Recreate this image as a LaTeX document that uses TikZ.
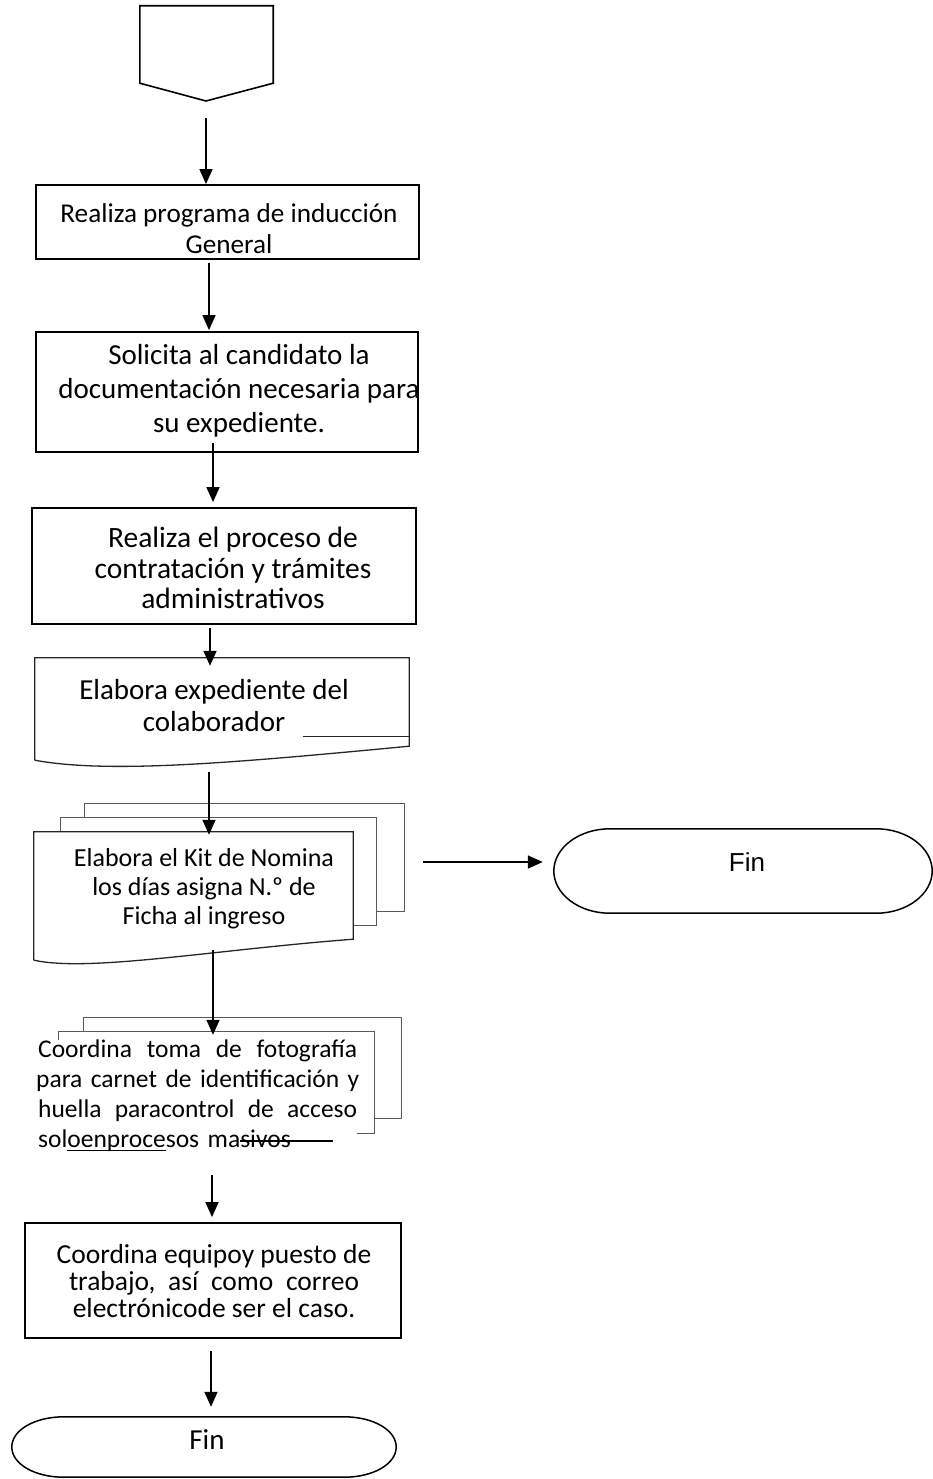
\documentclass[tikz,border=0pt]{standalone}
\usepackage{fontspec}
\setmainfont{Carlito}
\newfontfamily\arialfam{Liberation Sans}
\usetikzlibrary{arrows.meta}

\newlength\anchosub
\newcommand\subrayado[1]{\settowidth{\anchosub}{#1}\rlap{\rule[-3.5pt]{\anchosub}{1.5pt}}#1}
\newcommand\tam[2]{\fontsize{#1}{#2}\selectfont}

\tikzset{
  caja/.style={draw, line width=1.8pt, inner sep=0pt},
  hoja/.style={inner sep=0pt},
  borde/.style={line width=1.3pt, draw=black!85},
  capa/.style={line width=1.2pt, draw=black!65},
  flecha/.style={-{Triangle[length=15pt,width=13pt]}, line width=1.6pt},
  texto/.style={align=center, inner sep=0pt},
}

\begin{document}
\begin{tikzpicture}[x=1pt,y=-1pt]
    \useasboundingbox (0,0) rectangle (932,1479);

    % conector de inicio
    \node[hoja, minimum width=133pt, minimum height=77pt] (inicio) at (206.5,44.5) {};
    \coordinate (punta) at (206,101);
    \draw[line width=1.6pt] (inicio.south west) -- (inicio.north west) -- (inicio.north east)
        -- (inicio.south east) -- (punta) -- cycle;

    % procesos
    \node[caja, minimum width=383pt, minimum height=74pt]  (induccion) at (227.5,222) {};
    \node[caja, minimum width=382pt, minimum height=120pt] (solicita)  at (227,392) {};
    \node[caja, minimum width=384pt, minimum height=116pt] (contrata)  at (224,566) {};
    \node[caja, minimum width=376pt, minimum height=115pt] (equipo)    at (213,1280.5) {};

    \node[texto, font=\tam{27.2}{31}] (t1) at (229,229) {Realiza programa de inducción\\General};
    \node[texto, font=\tam{29}{34}]   (t2) at (239,391) {Solicita al candidato la\\documentación necesaria para\\su expediente.};
    \node[texto, font=\tam{29.5}{30.5}] (t3) at (233,568) {Realiza el proceso de\\contratación y trámites\\administrativos};
    \node[texto, font=\tam{27.5}{27}] (t7) at (214,1281)
        {Coordina equipoy puesto de\\\makebox[290pt]{trabajo,\hfill así\hfill como\hfill correo}\\electrónicode ser el caso.};

    % documento
    \node[hoja, minimum width=374pt, minimum height=88pt] (expediente) at (222,702) {};
    \draw[borde] ([yshift=-14pt]expediente.south west) -- (expediente.north west)
        -- (expediente.north east) -- (expediente.south east)
        .. controls +(-169,16) and +(75,14) .. ([yshift=-14pt]expediente.south west);
    \draw[borde] ([yshift=10pt]expediente.south east) -- ++(-106,0);
    \node[texto, font=\tam{29}{32}] (t4) at (214,706) {Elabora expediente del\\colaborador};

    % multidocumento 1
    \node[hoja, minimum width=319pt, minimum height=107pt] (nomina) at (193.5,885.5) {};
    \draw[capa] ([xshift=51pt,yshift=14pt]nomina.north west) -- ++(0,-14) -- ++(320,0) -- ++(0,108) -- ++(-28,0);
    \draw[capa] ([xshift=27pt]nomina.north west) -- ++(0,-14) -- ++(316,0) -- ++(0,108) -- ++(-24,0);
    \draw[borde, fill=white] ([yshift=-21pt]nomina.south west) -- (nomina.north west)
        -- (nomina.north east) -- (nomina.south east)
        .. controls +(-143,11) and +(56,12) .. ([yshift=-21pt]nomina.south west);
    \node[texto, font=\tam{26}{29}] (t5) at (204,889) {Elabora el Kit de Nomina\\los días asigna N.º de\\Ficha al ingreso};

    % multidocumento 2
    \node[hoja, minimum width=315pt, minimum height=101pt] (foto) at (216.5,1082.5) {};
    \draw[capa] ([xshift=25pt]foto.north west) -- ++(0,-14) -- ++(318,0) -- ++(0,101) -- ++(-28,0);
    \draw[capa, fill=white] (foto.south west) rectangle (foto.north east);
    \node[anchor=north west, fill=white, inner sep=0pt, text width=319pt, align=left,
          font=\tam{25.5}{30}] (t6) at (38,1040)
        {\makebox[319pt]{Coordina\hfill toma\hfill de\hfill fotografía}\\
         \makebox[319pt]{para carnet de identificación y}\\
         \makebox[319pt]{huella\hfill paracontrol\hfill de\hfill acceso}\\
         sol\subrayado{oenproce}sos ma\rlap{\rule[6pt]{93pt}{1.5pt}}sivos};

    % terminadores
    \node[hoja, minimum width=378pt, minimum height=84pt] (fin1) at (743,871) {};
    \draw[line width=1.5pt] ([xshift=56pt]fin1.north west) -- ([xshift=-56pt]fin1.north east)
        .. controls +(31,0) and +(0,-23) .. (fin1.east)
        .. controls +(0,23) and +(31,0) .. ([xshift=-56pt]fin1.south east)
        -- ([xshift=56pt]fin1.south west)
        .. controls +(-31,0) and +(0,23) .. (fin1.west)
        .. controls +(0,-23) and +(-31,0) .. ([xshift=56pt]fin1.north west);
    \node[font=\arialfam\fontsize{26}{30}\selectfont, inner sep=0pt] (f1) at (747,862) {Fin};

    \node[hoja, minimum width=384pt, minimum height=60pt] (fin2) at (204,1447) {};
    \draw[line width=1.5pt] ([xshift=52pt]fin2.north west) -- ([xshift=-52pt]fin2.north east)
        .. controls +(29,0) and +(0,-17) .. (fin2.east)
        .. controls +(0,17) and +(29,0) .. ([xshift=-52pt]fin2.south east)
        -- ([xshift=52pt]fin2.south west)
        .. controls +(-29,0) and +(0,17) .. (fin2.west)
        .. controls +(0,-17) and +(-29,0) .. ([xshift=52pt]fin2.north west);
    \node[font=\tam{29}{34}, inner sep=0pt] (f2) at (207,1440) {Fin};

    % flechas
    \draw[flecha, shorten <=17pt] (punta) -- (punta |- induccion.north);
    \draw[flecha, shorten <=3pt, shorten >=1pt] (induccion.south -| 209,0) -- (solicita.north -| 209,0);
    \draw[flecha, shorten <=-10pt, shorten >=5pt] (solicita.south -| 213,0) -- (contrata.north -| 213,0);
    \draw[flecha, shorten <=3pt, shorten >=-8pt] (contrata.south -| 210,0) -- (expediente.north -| 210,0);
    \draw[flecha, shorten <=26pt, shorten >=-3pt] (expediente.south -| 209,0) -- (nomina.north -| 209,0);
    \draw[flecha, shorten <=70pt, shorten >=11pt] (nomina.east |- 0,862) -- (fin1.west |- 0,862);
    \draw[flecha, shorten <=11pt, shorten >=-3pt] (nomina.south -| 213,0) -- (foto.north -| 213,0);
    \draw[flecha, shorten <=42pt, shorten >=5pt] (foto.south -| 212,0) -- (equipo.north -| 212,0);
    \draw[flecha, shorten <=12pt, shorten >=10pt] (equipo.south -| 211,0) -- (fin2.north -| 211,0);
\end{tikzpicture}
\end{document}
